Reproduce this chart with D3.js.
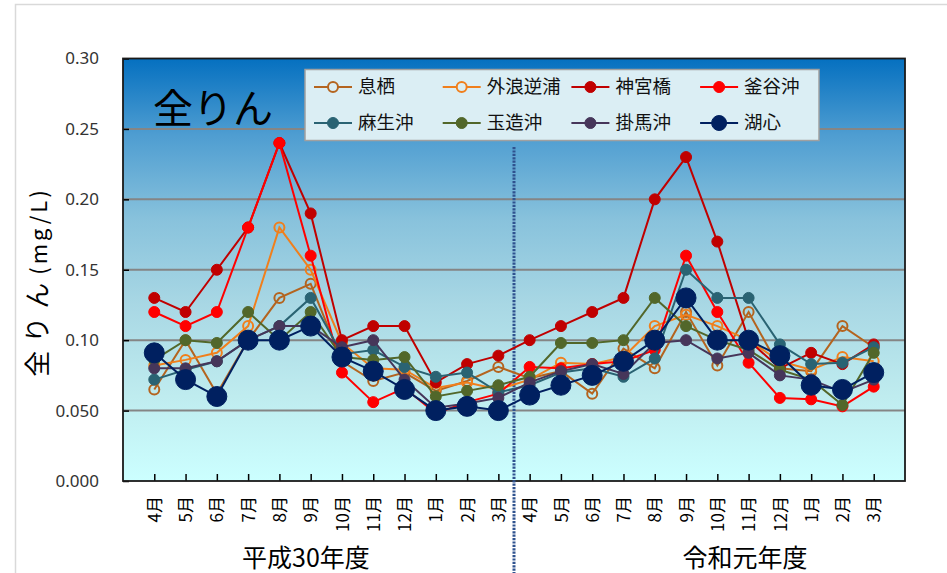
<!DOCTYPE html>
<html>
<head>
<meta charset="utf-8">
<script src="https://cdn.jsdelivr.net/npm/d3@7"></script>
<style>
  html, body { margin: 0; padding: 0; background: #ffffff; }
  svg { display: block; }
  text { font-family: "Noto Sans CJK JP", "Noto Sans", sans-serif; }
</style>
</head>
<body>
<svg id="chart" width="947" height="573"></svg>
<script>
// Monthly total phosphorus (mg/L), April 2018 – March 2020
const months = ["4月","5月","6月","7月","8月","9月","10月","11月","12月","1月","2月","3月",
                "4月","5月","6月","7月","8月","9月","10月","11月","12月","1月","2月","3月"];
const fiscalYears = ["平成30年度", "令和元年度"];
const yTicks = [0, 0.05, 0.10, 0.15, 0.20, 0.25, 0.30];
const yTickLabels = ["0.000", "0.050", "0.10", "0.15", "0.20", "0.25", "0.30"];

const stationNames = ["息栖", "外浪逆浦", "神宮橋", "釜谷沖", "麻生沖", "玉造沖", "掛馬沖", "湖心"];

const ikisu      = [0.065,0.100,0.062,0.100,0.130,0.140,0.085,0.071,0.077,0.064,0.071,0.081,
                    0.073,0.078,0.062,0.094,0.080,0.120,0.082,0.120,0.080,0.078,0.110,0.095];
const sotonasaka = [0.082,0.086,0.091,0.110,0.180,0.150,0.098,0.080,0.079,0.066,0.070,0.065,
                    0.072,0.084,0.083,0.088,0.110,0.118,0.110,0.100,0.085,0.079,0.088,0.085];
const jingubashi = [0.130,0.120,0.150,0.180,0.240,0.190,0.100,0.110,0.110,0.070,0.083,0.089,
                    0.100,0.110,0.120,0.130,0.200,0.230,0.170,0.100,0.080,0.091,0.083,0.097];
const kamayaoki  = [0.120,0.110,0.120,0.180,0.240,0.160,0.077,0.056,0.066,0.048,0.056,0.062,
                    0.081,0.080,0.083,0.085,0.093,0.160,0.120,0.084,0.059,0.058,0.053,0.067];
const asooki     = [0.072,0.079,0.085,0.100,0.110,0.130,0.090,0.093,0.081,0.074,0.077,0.063,
                    0.068,0.077,0.080,0.074,0.087,0.150,0.130,0.130,0.097,0.083,0.084,0.095];
const tamatsukuri= [0.086,0.100,0.098,0.120,0.100,0.120,0.088,0.086,0.088,0.060,0.064,0.068,
                    0.074,0.098,0.098,0.100,0.130,0.110,0.100,0.093,0.079,0.072,0.054,0.091];
const kakeumaoki = [0.080,0.080,0.085,0.100,0.110,0.110,0.095,0.100,0.072,0.052,0.055,0.059,
                    0.070,0.078,0.083,0.076,0.098,0.100,0.087,0.091,0.075,0.072,0.063,0.072];
const koshin     = [0.091,0.072,0.060,0.100,0.100,0.110,0.088,0.078,0.065,0.050,0.053,0.050,
                    0.061,0.068,0.075,0.085,0.100,0.130,0.100,0.100,0.089,0.068,0.065,0.077];

const seriesValues = [ikisu, sotonasaka, jingubashi, kamayaoki, asooki, tamatsukuri, kakeumaoki, koshin];

// marker style for each station
const styles = [
  { color: "#b4641f", r: 5,   hollow: true  },
  { color: "#f07f1c", r: 5,   hollow: true  },
  { color: "#c00000", r: 5.5, hollow: false },
  { color: "#ff0000", r: 5.5, hollow: false },
  { color: "#2a6373", r: 5.5, hollow: false },
  { color: "#52672a", r: 5.5, hollow: false },
  { color: "#46365a", r: 5.5, hollow: false },
  { color: "#002060", r: 10,  hollow: false }
];

const series = stationNames.map((name, i) => ({ name, values: seriesValues[i], style: styles[i] }));

const svg = d3.select("#chart");
const plot = { left: 123, right: 905, top: 58.5, bottom: 481 };

const x = d3.scalePoint().domain(d3.range(months.length)).range([plot.left, plot.right]).padding(1);
const y = d3.scaleLinear().domain([0, 0.30]).range([plot.bottom, plot.top]);

// outer chart frame
svg.append("rect").attr("x", 15.5).attr("y", 4.5).attr("width", 960).attr("height", 600)
  .attr("fill", "none").attr("stroke", "#d9d9d9").attr("stroke-width", 1.5);

// plot background gradient
const defs = svg.append("defs");
const grad = defs.append("linearGradient").attr("id", "bg").attr("x1", 0).attr("y1", 0).attr("x2", 0).attr("y2", 1);
[["0%", "#0570c0"], ["18%", "#4e9dd1"], ["38%", "#88c2dc"], ["58%", "#a8d7e4"], ["80%", "#bfecef"], ["100%", "#ccffff"]]
  .forEach(([o, c]) => grad.append("stop").attr("offset", o).attr("stop-color", c));

svg.append("rect").attr("x", plot.left).attr("y", plot.top)
  .attr("width", plot.right - plot.left).attr("height", plot.bottom - plot.top)
  .attr("fill", "url(#bg)");

// horizontal gridlines
svg.append("g").selectAll("line").data(yTicks.slice(1, -1)).join("line")
  .attr("x1", plot.left).attr("x2", plot.right)
  .attr("y1", d => y(d)).attr("y2", d => y(d))
  .attr("stroke", "#858585").attr("stroke-width", 2);

// y axis
const yAxis = svg.append("g").attr("transform", `translate(${plot.left},0)`)
  .call(d3.axisLeft(y).tickValues(yTicks).tickFormat((d, i) => yTickLabels[i])
    .tickSizeInner(-6).tickSizeOuter(0).tickPadding(24));
yAxis.select(".domain").remove();
yAxis.selectAll("line").attr("stroke", "#000").attr("stroke-width", 1.5);
yAxis.selectAll("text").attr("font-size", 17).attr("fill", "#333")
  .style("font-family", "'Noto Sans', 'Open Sans', sans-serif");

// x axis
const xAxis = svg.append("g").attr("transform", `translate(0,${plot.bottom})`)
  .call(d3.axisBottom(x).tickFormat(i => months[i]).tickSizeInner(-7).tickSizeOuter(0));
xAxis.select(".domain").remove();
xAxis.selectAll("line").attr("stroke", "#000").attr("stroke-width", 1.5);
xAxis.selectAll("text")
  .attr("transform", "rotate(-90)")
  .attr("x", -15).attr("y", 0).attr("dy", "0.36em")
  .style("text-anchor", "end")
  .attr("font-size", 17).attr("fill", "#000");

// plot border
svg.append("rect").attr("x", plot.left).attr("y", plot.top)
  .attr("width", plot.right - plot.left).attr("height", plot.bottom - plot.top)
  .attr("fill", "none").attr("stroke", "#1a1a1a").attr("stroke-width", 1.8);

// fiscal year labels
const yearPos = [306, 745];
svg.append("g").selectAll("text").data(fiscalYears).join("text")
  .attr("x", (d, i) => yearPos[i]).attr("y", 567)
  .attr("text-anchor", "middle").attr("font-size", 25).attr("fill", "#000")
  .text(d => d);

// divider between fiscal years
const divX = (x(11) + x(12)) / 2;
svg.append("line").attr("x1", divX).attr("x2", divX).attr("y1", 147).attr("y2", 573)
  .attr("stroke", "#2f528f").attr("stroke-width", 3).attr("stroke-dasharray", "2.2 1.2");

// y axis title
svg.append("text")
  .attr("transform", "translate(47,282) rotate(-90)")
  .attr("text-anchor", "middle").attr("fill", "#000")
  .call(t => {
    t.append("tspan").attr("font-size", 26).attr("letter-spacing", 8).text("全りん");
    t.append("tspan").attr("font-size", 22).attr("letter-spacing", 3).text("(mg/L)");
  });

// chart title inside the plot
svg.append("text").attr("x", 153).attr("y", 123)
  .attr("font-size", 40).attr("fill", "#000").text("全りん");

// series lines and markers
const line = d3.line().x((d, i) => x(i)).y(d => y(d));
const seriesG = svg.append("g").selectAll("g").data(series).join("g");
seriesG.append("path")
  .attr("d", d => line(d.values))
  .attr("fill", "none").attr("stroke", d => d.style.color).attr("stroke-width", 2);
seriesG.each(function (s) {
  d3.select(this).selectAll("circle").data(s.values).join("circle")
    .attr("cx", (d, i) => x(i)).attr("cy", d => y(d)).attr("r", s.style.r)
    .attr("fill", s.style.hollow ? "none" : s.style.color)
    .attr("stroke", s.style.color).attr("stroke-width", s.style.hollow ? 2 : 1);
});

// legend
const legend = svg.append("g");
legend.append("rect").attr("x", 305).attr("y", 69.5).attr("width", 514).attr("height", 71)
  .attr("fill", "#dbeef4").attr("stroke", "#a0a0a0").attr("stroke-width", 1.5);
const legendItems = legend.selectAll("g").data(series).join("g")
  .attr("transform", (d, i) => `translate(${314 + (i % 4) * 128.7},${i < 4 ? 87 : 123})`);
legendItems.append("line").attr("x1", 0).attr("x2", 38).attr("y1", 0).attr("y2", 0)
  .attr("stroke", d => d.style.color).attr("stroke-width", 2);
legendItems.append("circle").attr("cx", 19).attr("cy", 0)
  .attr("r", d => d.style.r === 10 ? 7.5 : d.style.r)
  .attr("fill", d => d.style.hollow ? "#dbeef4" : d.style.color)
  .attr("stroke", d => d.style.color).attr("stroke-width", d => d.style.hollow ? 2 : 1);
legendItems.append("text").attr("x", 44).attr("y", 0).attr("dy", "0.35em")
  .attr("font-size", 18.5).attr("fill", "#111").text(d => d.name);
</script>
</body>
</html>
